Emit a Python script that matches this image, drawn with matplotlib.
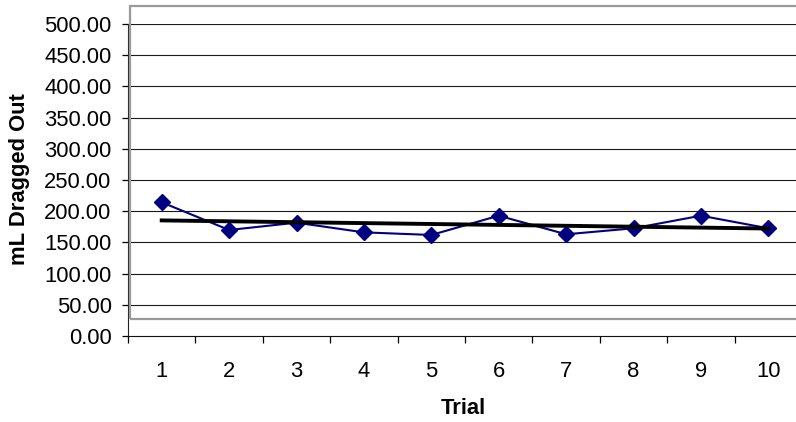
import matplotlib
matplotlib.use("Agg")
import matplotlib.pyplot as plt
import numpy as np
from matplotlib.patches import Rectangle

trials = [1, 2, 3, 4, 5, 6, 7, 8, 9, 10]
ml_out = [214.3, 169.9, 181.6, 166.1, 161.9, 192.8, 163.0, 172.6, 192.8, 172.6]
y_ticks = [0, 50, 100, 150, 200, 250, 300, 350, 400, 450, 500]

plt.rcParams['font.family'] = ['Liberation Sans', 'DejaVu Sans']

W, H = 796, 422
FS = 15.8
fig = plt.figure(figsize=(W / 100, H / 100), dpi=100)
ax = fig.add_axes([128 / W, 86 / H, (802 - 128) / W, 312 / H])

# offset gray plot-area border (Excel artifact)
fig.patches.append(Rectangle((130 / W, (H - 319) / H), (805 - 130) / W, (319 - 6) / H,
                             transform=fig.transFigure, fill=False,
                             edgecolor='#9a9a9a', linewidth=1.6, zorder=0))

ax.set_xlim(0.5, 10.5)
ax.set_ylim(0, 500)
ax.set_yticks(y_ticks)
ax.set_yticklabels([f"{v:.2f}" for v in y_ticks])
for v in y_ticks[1:]:
    ax.axhline(v, color='#1a1a1a', linewidth=0.8, zorder=1)

ax.set_xticks(np.arange(0.5, 11, 1.0))
ax.set_xticklabels([])
ax.set_xticks(trials, minor=True)
ax.set_xticklabels([str(t) for t in trials], minor=True)
ax.tick_params(axis='x', which='major', direction='out', length=5, width=0.9, color='black')
ax.tick_params(axis='x', which='minor', length=0, pad=18, labelsize=FS)
ax.tick_params(axis='y', direction='out', length=4.3, width=0.9, pad=7.5, labelsize=FS)

for s in ['top', 'right']:
    ax.spines[s].set_visible(False)
ax.spines['left'].set_color('#222222')
ax.spines['bottom'].set_color('#111111')
ax.patch.set_alpha(0)

ax.plot(trials, ml_out, color='#000080', linewidth=1.5, marker='D', markersize=8,
        markerfacecolor='#000080', markeredgecolor='#000080', zorder=3, clip_on=False)

coef = np.polyfit(trials, ml_out, 1)
tx = np.array([trials[0], trials[-1]])
ax.plot(tx, np.polyval(coef, tx), color='black', linewidth=2.8, zorder=4)

fig.text(463 / W, 1 - 408 / H, 'Trial', ha='center', va='center', fontsize=FS, fontweight='bold')
fig.text(20 / W, 1 - 179 / H, 'mL Dragged Out', ha='center', va='center', rotation=90,
         fontsize=FS, fontweight='bold')

fig.savefig('out.png', dpi=100)
